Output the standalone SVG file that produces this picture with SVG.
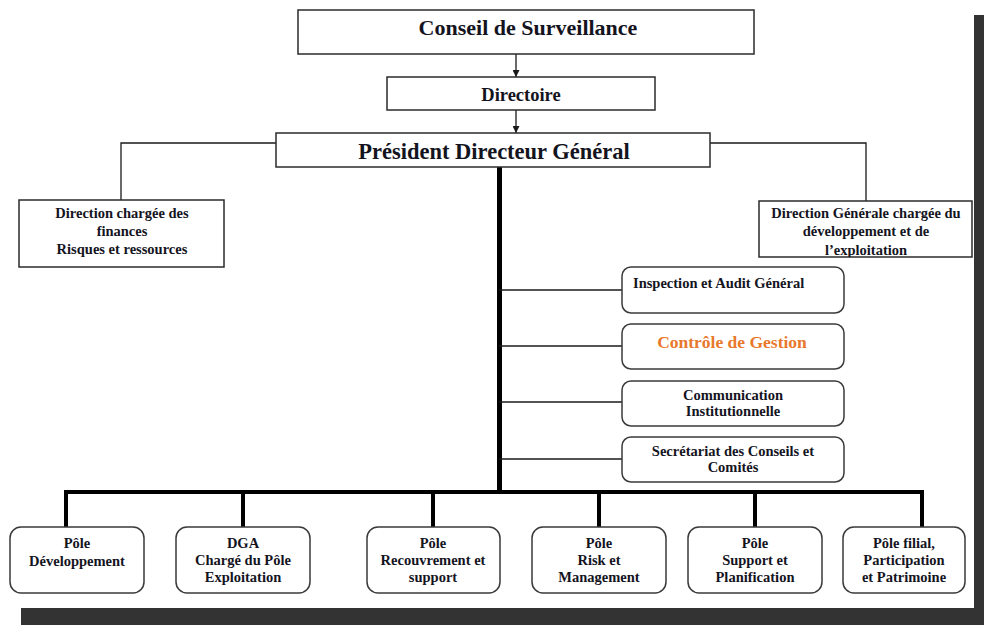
<svg xmlns="http://www.w3.org/2000/svg" width="984" height="625" viewBox="0 0 984 625">
  <style>
    .box { fill: #ffffff; stroke: #2b2b2b; stroke-width: 1.5; }
    .rbox { fill: #ffffff; stroke: #3a3a3a; stroke-width: 1.5; }
    .t { font-family: "Liberation Serif", "Times New Roman", serif; font-weight: bold; fill: #14141e; text-anchor: middle; }
    .big { font-size: 22px; }
    .mid { font-size: 17.5px; }
    .sm { font-size: 14.5px; }
    .thin { stroke: #1a1a1a; stroke-width: 1.3; fill: none; }
    .thick { stroke: #000000; stroke-width: 4; fill: none; }
  </style>
  <defs>
    <marker id="arrow" viewBox="0 0 10 10" refX="10" refY="5" markerWidth="7" markerHeight="7" orient="auto" markerUnits="userSpaceOnUse">
      <path d="M0,0 L10,5 L0,10 z" fill="#1a1a1a"/>
    </marker>
    <clipPath id="clipRight">
      <rect x="759" y="201" width="213" height="56"/>
    </clipPath>
  </defs>

  <!-- page background and drop shadow -->
  <rect x="0" y="0" width="984" height="625" fill="#ffffff"/>
  <rect x="974" y="15" width="10" height="610" fill="#333333"/>
  <rect x="21" y="608" width="963" height="17" fill="#333333"/>

  <!-- connectors -->
  <g id="connectors">
    <line class="thin" x1="516" y1="54" x2="516" y2="77" marker-end="url(#arrow)"/>
    <line class="thin" x1="516" y1="110" x2="516" y2="133" marker-end="url(#arrow)"/>
    <polyline class="thin" points="276,143 121,143 121,200"/>
    <polyline class="thin" points="710,143 866,143 866,201"/>
    <line x1="499.5" y1="167" x2="499.5" y2="494" stroke="#000" stroke-width="5"/>
    <line class="thin" x1="499" y1="290" x2="622" y2="290"/>
    <line class="thin" x1="499" y1="346" x2="622" y2="346"/>
    <line class="thin" x1="499" y1="402" x2="622" y2="402"/>
    <line class="thin" x1="499" y1="459" x2="622" y2="459"/>
    <polyline class="thick" points="66,527 66,492 922,492 922,527"/>
    <line class="thick" x1="243" y1="492" x2="243" y2="527"/>
    <line class="thick" x1="433" y1="492" x2="433" y2="527"/>
    <line class="thick" x1="599" y1="492" x2="599" y2="527"/>
    <line class="thick" x1="755" y1="492" x2="755" y2="527"/>
  </g>

  <g id="conseil">
    <rect class="box" x="298" y="10" width="456" height="44"/>
    <text class="t big" x="528" y="35">Conseil de Surveillance</text>
  </g>

  <g id="directoire">
    <rect class="box" x="387" y="77" width="268" height="33"/>
    <text class="t" x="521" y="101" style="font-size:18.5px">Directoire</text>
  </g>

  <g id="pdg">
    <rect class="box" x="276" y="133" width="434" height="34"/>
    <text class="t" x="494" y="159" style="font-size:22.5px">Président Directeur Général</text>
  </g>

  <g id="dir-finances">
    <rect class="box" x="19" y="200" width="205" height="67"/>
    <text class="t sm" x="122" y="218">Direction chargée des</text>
    <text class="t sm" x="122" y="236">finances</text>
    <text class="t sm" x="122" y="254">Risques et ressources</text>
  </g>

  <g id="dir-generale">
    <rect class="box" x="759" y="201" width="213" height="56"/>
    <!-- third line runs past the frame and is cut at its lower edge -->
    <g clip-path="url(#clipRight)">
      <text class="t sm" x="866" y="218">Direction Générale chargée du</text>
      <text class="t sm" x="866" y="236">développement et de</text>
      <text class="t sm" x="866" y="255">l’exploitation</text>
    </g>
  </g>

  <g id="inspection">
    <rect class="rbox" x="622" y="267" width="222" height="46" rx="9"/>
    <text class="t sm" x="633" y="288" style="text-anchor:start">Inspection et Audit Général</text>
  </g>

  <g id="controle">
    <rect class="rbox" x="622" y="324" width="222" height="45" rx="9"/>
    <text class="t mid" x="732" y="348" style="fill:#e8782c">Contrôle de Gestion</text>
  </g>

  <g id="communication">
    <rect class="rbox" x="622" y="381" width="222" height="45" rx="9"/>
    <text class="t sm" x="733" y="400">Communication</text>
    <text class="t sm" x="733" y="416">Institutionnelle</text>
  </g>

  <g id="secretariat">
    <rect class="rbox" x="622" y="437" width="222" height="45" rx="9"/>
    <text class="t sm" x="733" y="456">Secrétariat des Conseils et</text>
    <text class="t sm" x="733" y="472">Comités</text>
  </g>

  <g id="pole-developpement">
    <rect class="rbox" x="10" y="527" width="134" height="66" rx="11"/>
    <text class="t sm" x="77" y="548">Pôle</text>
    <text class="t sm" x="77" y="566">Développement</text>
  </g>

  <g id="dga-exploitation">
    <rect class="rbox" x="176" y="527" width="134" height="66" rx="11"/>
    <text class="t sm" x="243" y="548">DGA</text>
    <text class="t sm" x="243" y="565">Chargé du Pôle</text>
    <text class="t sm" x="243" y="582">Exploitation</text>
  </g>

  <g id="pole-recouvrement">
    <rect class="rbox" x="367" y="527" width="133" height="66" rx="11"/>
    <text class="t sm" x="433" y="548">Pôle</text>
    <text class="t sm" x="433" y="565">Recouvrement et</text>
    <text class="t sm" x="433" y="582">support</text>
  </g>

  <g id="pole-risk">
    <rect class="rbox" x="532" y="527" width="134" height="66" rx="11"/>
    <text class="t sm" x="599" y="548">Pôle</text>
    <text class="t sm" x="599" y="565">Risk et</text>
    <text class="t sm" x="599" y="582">Management</text>
  </g>

  <g id="pole-support">
    <rect class="rbox" x="688" y="527" width="134" height="66" rx="11"/>
    <text class="t sm" x="755" y="548">Pôle</text>
    <text class="t sm" x="755" y="565">Support et</text>
    <text class="t sm" x="755" y="582">Planification</text>
  </g>

  <g id="pole-filial">
    <rect class="rbox" x="843" y="527" width="122" height="66" rx="11"/>
    <text class="t sm" x="904" y="548">Pôle filial,</text>
    <text class="t sm" x="904" y="565">Participation</text>
    <text class="t sm" x="904" y="582">et Patrimoine</text>
  </g>
</svg>
